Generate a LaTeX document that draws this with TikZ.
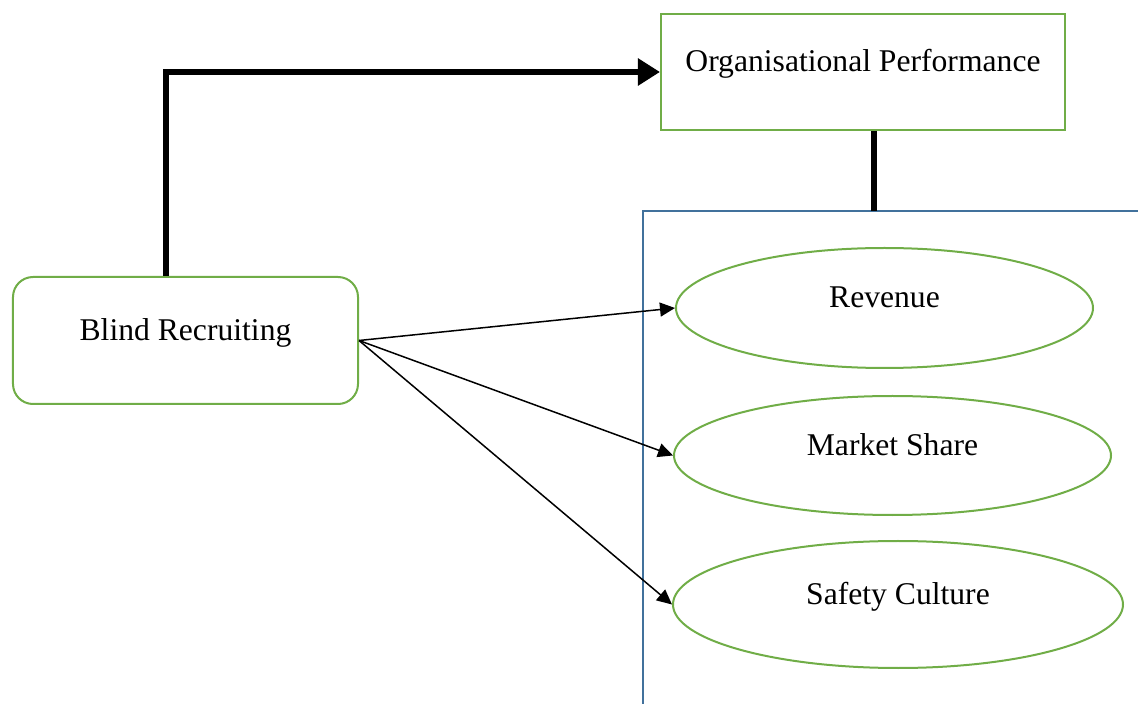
\documentclass[tikz,border=0pt]{standalone}
\usepackage{fontspec}
\setmainfont{Liberation Serif}
\usepackage{xcolor}
\usetikzlibrary{shapes,calc,arrows.meta,positioning}
\definecolor{mgreen}{HTML}{70AD47}
\definecolor{mblue}{HTML}{41719C}
\tikzstyle{box}=[draw=mgreen, line width=0.4mm, inner sep=0pt, text height=5mm, text depth=5mm, font=\fontsize{18}{21}\selectfont]
\tikzstyle{dim}=[box, rectangle, minimum width=80.8mm, minimum height=23.2mm]
\tikzstyle{var}=[box, rectangle, rounded corners=4mm, minimum width=69mm, minimum height=25.4mm]
\tikzstyle{item}=[box, ellipse]
\tikzstyle{l1}=[line width=0.3mm, -{Triangle[length=3mm, width=2.8mm]}]
\tikzstyle{l2}=[line width=1.2mm]
\tikzstyle{panel}=[draw=mblue, line width=0.4mm]

\begin{document}
\begin{tikzpicture}[x=0.2mm, y=-0.2mm]
    \useasboundingbox (0,0) rectangle (1138,704);

    \node (op) [dim] at (863,72) {Organisational Performance};
    \node (br) [var] at (185.5,340.5) {Blind Recruiting};

    \node (rev) [item, minimum width=83.4mm, minimum height=24mm] at (884.5,308) {Revenue};
    \node (mkt) [item, minimum width=87.4mm, minimum height=23.8mm] at (892.5,455.5) {Market Share};
    \node (saf) [item, minimum width=90mm, minimum height=25.4mm] at (898,604.5) {Safety Culture};

    % indicators panel
    \draw[panel] (1138,211) -| (643,704);
    \coordinate (ptop) at (874,211);
    \draw[l2] (op.south -| ptop) -- (ptop);

    \draw[l2, -{Triangle[length=4.4mm, width=5.2mm]}] ([xshift=-4mm]br.north) |- (op.west);

    \draw[l1] (br.east) -- (rev.west);
    \draw[l1] (br.east) -- (mkt.west);
    \draw[l1] (br.east) -- (saf.west);
\end{tikzpicture}
\end{document}
